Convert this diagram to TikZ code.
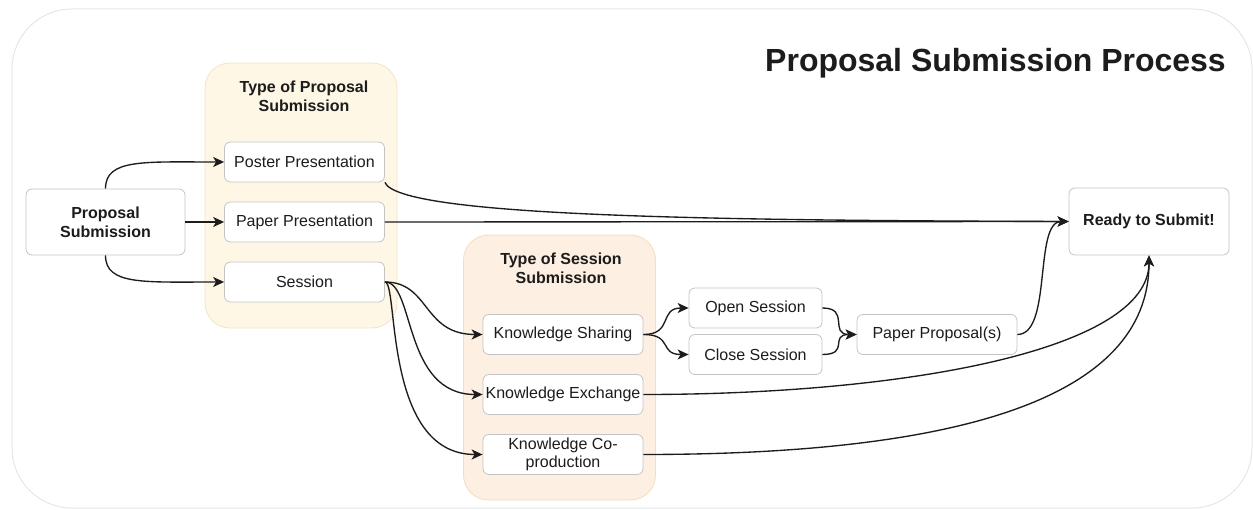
\documentclass[tikz,border=0pt]{standalone}
\usepackage{fontspec}
\setmainfont{Liberation Sans}
\usetikzlibrary{arrows.meta}
\definecolor{framegray}{HTML}{E6E6E6}
\definecolor{boxgray}{HTML}{C4C4C4}
\definecolor{grpAfill}{HTML}{FFF7E6}
\definecolor{grpAdraw}{HTML}{F3E4C4}
\definecolor{grpBfill}{HTML}{FDEFE2}
\definecolor{grpBdraw}{HTML}{F4DDC2}
\definecolor{ink}{HTML}{1C1C1C}
\tikzset{
  box/.style={draw=boxgray, line width=0.8pt, fill=white, rounded corners=6pt,
    minimum width=160pt, minimum height=40pt, align=center, inner sep=1pt,
    text=ink, font=\fontsize{16}{18}\selectfont},
  bigbox/.style={box, minimum height=67pt, font=\fontsize{16}{19}\selectfont\bfseries},
  grp/.style={rounded corners=25pt, line width=0.8pt, minimum width=192pt, minimum height=265pt, inner sep=0pt},
  grptitle/.style={align=center, text=ink, font=\fontsize{16}{19}\selectfont\bfseries},
  conn/.style={draw=ink, line width=1.35pt, -{Stealth[length=11pt,width=10pt,inset=3pt]}},
}
\begin{document}
\begin{tikzpicture}[x=1pt,y=-1pt]
\useasboundingbox (0,0) rectangle (1253,510);
% outer frame
\draw[framegray, line width=1pt, rounded corners=60pt] (12,9) rectangle (1252,508);
% title
\node[anchor=base east, text=ink, font=\fontsize{32}{36}\selectfont\bfseries, inner sep=0pt] (title) at (1226,72) {Proposal Submission Process};
% groups
\node[grp, draw=grpAdraw, fill=grpAfill] (grpA) at (301,195.5) {};
\node[grp, draw=grpBdraw, fill=grpBfill] (grpB) at (559.5,367.5) {};
\node[grptitle] (grpAt) at (304,96) {Type of Proposal\\Submission};
\node[grptitle] (grpBt) at (561,268) {Type of Session\\Submission};
% nodes
\node[bigbox, minimum width=159pt, minimum height=66pt] (ps) at (105.5,222) {Proposal\\Submission};
\node[box] (poster) at (304.5,162) {Poster Presentation};
\node[box] (paper) at (304.5,222) {Paper Presentation};
\node[box] (session) at (304.5,282) {Session};
\node[box] (ks) at (563,334.5) {Knowledge Sharing};
\node[box] (ke) at (563,394.5) {Knowledge Exchange};
\node[box] (kc) at (563,454.5) {Knowledge Co-\\production};
\node[box, minimum width=133pt] (open) at (755.5,308) {Open Session};
\node[box, minimum width=133pt] (close) at (755.5,354.5) {Close Session};
\node[box] (pp) at (937,334.5) {Paper Proposal(s)};
\node[bigbox] (ready) at (1149,221.5) {Ready to Submit!};
% connectors
\draw[conn] (ps.north) .. controls +(0,-30) and +(-80,0) .. (poster.west);
\draw[conn] (ps.east) -- (paper.west);
\draw[conn] (ps.south) .. controls +(0,30) and +(-80,0) .. (session.west);
\draw[conn] (poster.south east) .. controls +(14,34) and +(-360,-1) .. (ready.west);
\draw[conn] (paper.east) -- (ready.west);
\draw[conn] (session.east) .. controls +(45,0) and +(-60,0) .. (ks.west);
\draw[conn] (session.east) .. controls +(30,0) and +(-80,0) .. (ke.west);
\draw[conn] (session.east) .. controls +(14,0) and +(-100,0) .. (kc.west);
\draw[conn] (ks.east) .. controls +(30,0) and +(-30,0) .. (open.west);
\draw[conn] (ks.east) .. controls +(30,0) and +(-30,0) .. (close.west);
\draw[conn] (open.east) .. controls +(28,0) and +(-28,0) .. (pp.west);
\draw[conn] (close.east) .. controls +(28,0) and +(-28,0) .. (pp.west);
\draw[conn] (pp.east) .. controls +(35,0) and +(-35,0) .. (ready.west);
\draw[conn] (ke.east) .. controls +(260,0) and +(0,95) .. (ready.south);
\draw[conn] (kc.east) .. controls +(310,0) and +(0,145) .. (ready.south);
\end{tikzpicture}
\end{document}
